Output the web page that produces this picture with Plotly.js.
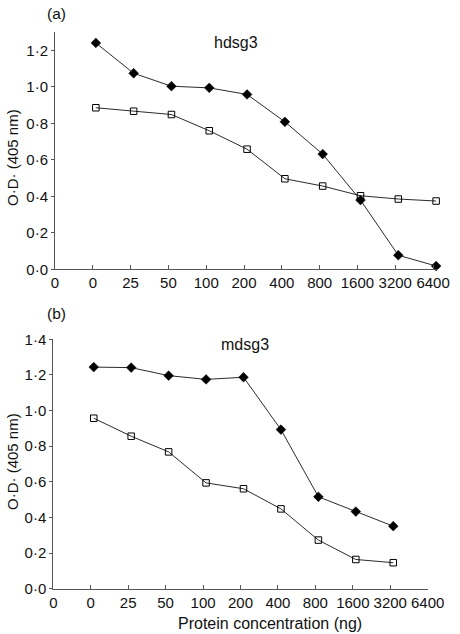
<!DOCTYPE html>
<html>
<head>
<meta charset="utf-8">
<script src="https://cdn.plot.ly/plotly-3.0.1.min.js"></script>
<style>html,body{margin:0;padding:0;background:#fff;}#chart{width:460px;height:634px;}</style>
</head>
<body>
<div id="chart"></div>
<script>
// Category tick labels (x axis, ordinal positions)
const xTickLabels = ["0", "0", "25", "50", "100", "200", "400", "800", "1600", "3200", "6400"];
// Protein concentrations (ng) for each panel
const concA = ["0", "25", "50", "100", "200", "400", "800", "1600", "3200", "6400"];
const concB = ["0", "25", "50", "100", "200", "400", "800", "1600", "3200"];
// Panel (a) hdsg3
const hdsg3Filled = [1.24, 1.074, 1.003, 0.994, 0.958, 0.808, 0.631, 0.379, 0.077, 0.018];
const hdsg3Open   = [0.885, 0.866, 0.848, 0.759, 0.658, 0.496, 0.456, 0.403, 0.385, 0.374];
// Panel (b) mdsg3
const mdsg3Filled = [1.244, 1.241, 1.196, 1.175, 1.187, 0.893, 0.516, 0.433, 0.351];
const mdsg3Open   = [0.957, 0.856, 0.768, 0.594, 0.561, 0.448, 0.273, 0.164, 0.146];
// Y tick labels
const yTickValsA = [0, 0.2, 0.4, 0.6, 0.8, 1.0, 1.2];
const yTickTextA = ["0·0", "0·2", "0·4", "0·6", "0·8", "1·0", "1·2"];
const yTickValsB = [0, 0.2, 0.4, 0.6, 0.8, 1.0, 1.2, 1.4];
const yTickTextB = ["0·0", "0·2", "0·4", "0·6", "0·8", "1·0", "1·2", "1·4"];

// map concentration labels to ordinal positions (position of the label among the x tick labels, after the origin "0")
const PT_SHIFT = 0.08;
function pos(labels) { return labels.map((l, i) => i + 1 + PT_SHIFT); }

const W = 460, H = 634;
const FONT = "Liberation Sans, Arial, sans-serif";
const lineCol = "#2b2b2b";

function filledTrace(x, y, xa, ya) {
  return { x: x, y: y, xaxis: xa, yaxis: ya, type: "scatter", mode: "lines+markers",
    cliponaxis: false,
    line: { color: lineCol, width: 1 },
    marker: { symbol: "diamond", size: 7.5, color: "#000", line: { color: "#000", width: 0.5 } },
    showlegend: false, hoverinfo: "x+y" };
}
function openTrace(x, y, xa, ya) {
  return { x: x, y: y, xaxis: xa, yaxis: ya, type: "scatter", mode: "lines+markers",
    cliponaxis: false,
    line: { color: lineCol, width: 1 },
    marker: { symbol: "square-open", size: 6.5, color: "#000", line: { color: "#000", width: 1 } },
    showlegend: false, hoverinfo: "x+y" };
}

const data = [
  openTrace(pos(concA), hdsg3Open, "x", "y"),
  filledTrace(pos(concA), hdsg3Filled, "x", "y"),
  openTrace(pos(concB), mdsg3Open, "x2", "y2"),
  filledTrace(pos(concB), mdsg3Filled, "x2", "y2")
];

const tickVals = xTickLabels.map((l, i) => i);
function xAxis(domPx, anchor, range) {
  return { domain: [domPx[0] / W, domPx[1] / W], anchor: anchor, range: range,
    tickvals: tickVals, ticktext: xTickLabels, ticks: "inside", ticklen: 4, tickwidth: 1,
    tickcolor: "#555", showline: true, linecolor: "#555", linewidth: 1, showgrid: false,
    zeroline: false, tickfont: { family: FONT, size: 15, color: "#111" }, fixedrange: true };
}
function yAxis(domPx, anchor, range, tv, tt) {
  return { domain: [(H - domPx[1]) / H, (H - domPx[0]) / H], anchor: anchor, range: range,
    tickvals: tv, ticktext: tt, ticks: "outside", ticklen: 3, tickwidth: 1,
    tickcolor: "#555", showline: true, linecolor: "#555", linewidth: 1, showgrid: false,
    zeroline: false, tickfont: { family: FONT, size: 15, color: "#111" }, fixedrange: true };
}

const ann = (x, y, text, size, extra) => Object.assign({ xref: "paper", yref: "paper",
  x: x / W, y: (H - y) / H, text: text, showarrow: false, xanchor: "center", yanchor: "middle",
  font: { family: FONT, size: size, color: "#111" } }, extra || {});

const layout = {
  width: W, height: H, margin: { l: 0, r: 0, t: 0, b: 0 },
  paper_bgcolor: "#fff", plot_bgcolor: "rgba(0,0,0,0)",
  xaxis: xAxis([55, 438], "y", [0, 10.13]),
  yaxis: yAxis([32, 269.3], "x", [0, 1.3], yTickValsA, yTickTextA),
  xaxis2: xAxis([53.3, 427.7], "y2", [0, 10]),
  yaxis2: yAxis([339.3, 588.7], "x2", [0, 1.4], yTickValsB, yTickTextB),
  annotations: [
    ann(56, 14, "(a)", 15.5),
    ann(56, 313, "(b)", 15.5),
    ann(236, 42, "hdsg3", 16),
    ann(245, 345, "mdsg3", 16),
    ann(12, 158, "O·D· (405 nm)", 15, { textangle: -90 }),
    ann(12, 462, "O·D· (405 nm)", 15, { textangle: -90 }),
    ann(270, 623, "Protein concentration (ng)", 16)
  ]
};

Plotly.newPlot("chart", data, layout, { staticPlot: true, displayModeBar: false });
</script>
</body>
</html>
